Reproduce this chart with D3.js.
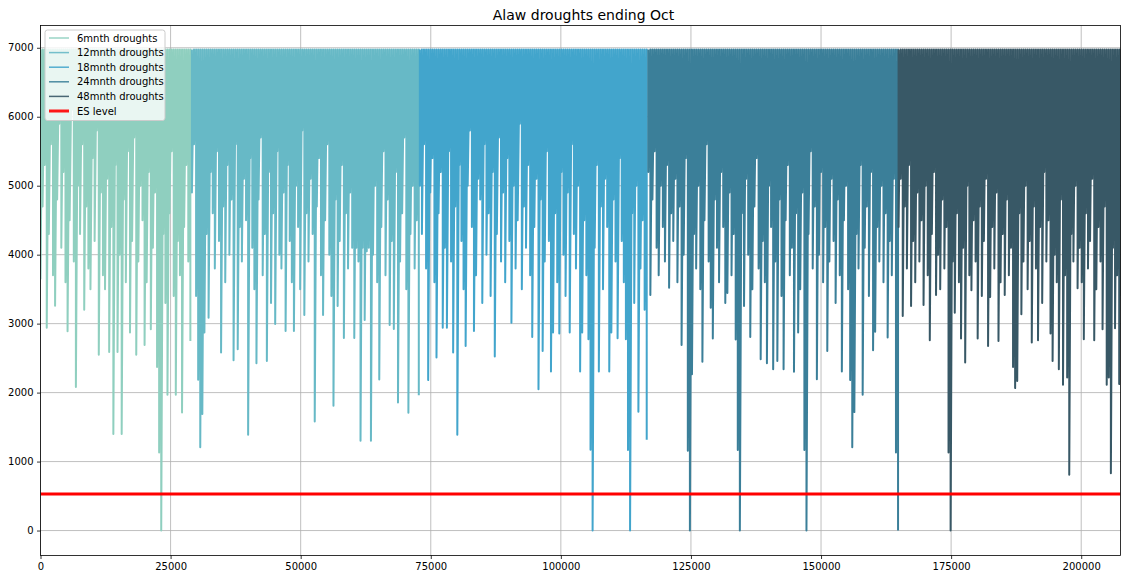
<!DOCTYPE html>
<html>
<head>
<meta charset="utf-8">
<script src="https://cdn.jsdelivr.net/npm/d3@7"></script>
<style>
  body { margin: 0; background: #fff; }
  text { font-family: "DejaVu Sans", sans-serif; }
</style>
</head>
<body>
<svg id="chart" width="1121" height="573"></svg>
<script>
// Reservoir storage (Ml) for drought traces ending in October.
// Each value is the lowest storage reached in one sampled stretch of the run;
// the storage refills to the reservoir capacity between stretches.
const capacity = 6975;
const sampleStep = 400;
const esLevel = 530;

const seriesNames = ["6mnth droughts", "12mnth droughts", "18mnth droughts", "24mnth droughts", "48mnth droughts"];
const seriesStarts = [0, 29100, 72900, 116800, 164900];

const droughts6 = [
  3650, 4700, 5300, 2940, 4300, 5600, 3700, 3260, 4800, 5900,
  4100, 5200, 3600, 2890, 4500, 6100, 3900, 2080, 5000, 4300,
  5600, 3200, 4700, 3800, 3500, 5400, 4200, 5800, 2550, 4900,
  3700, 3500, 5100, 2590, 4400, 1400, 5300, 2590, 4000, 1400,
  4800, 3600, 5500, 2870, 4200, 5700, 2550, 3900, 5000, 4500,
  2690, 3600, 5200, 2920, 4100, 4900, 2370, 1130, 0, 4300,
  3300, 1970, 4600, 5500, 3400, 1970, 4200, 3700, 1710, 4400,
  5300, 3900, 2750
];

const droughts12 = [
  4900, 5600, 3400, 2185, 1206, 1690, 2870, 4300, 3087, 5200,
  4600, 3800, 5500, 4200, 2580, 4700, 3600, 5300, 4000, 4800,
  2470, 5600, 2630, 4400, 3900, 5100, 4500, 1390, 5400, 4100,
  3500, 2427, 4800, 5700, 3700, 4300, 2460, 5200, 3300, 4600,
  2995, 5500, 4000, 3800, 4900, 2894, 5300, 4200, 3600, 2894,
  5000, 4400, 3500, 5800, 3126, 4600, 3900, 5100, 4300, 1582,
  4700, 5400, 3700, 3126, 4500, 5600, 4000, 3400, 1809, 4800,
  3256, 4200, 5300, 2793, 4600, 3800, 4900, 4100, 2793, 4100,
  3900, 1302, 4100, 3053, 4050, 4100, 1302, 4000, 5000, 3600,
  2190, 4400, 5500, 3700, 4800, 2981, 4200, 2923, 5200, 1857,
  3900, 4600, 5700, 3500, 1707, 4300, 5000, 3800, 4500, 1963
];

const droughts18 = [
  5000, 4300, 5600, 3800, 2181, 4900, 5400, 3600, 2508, 4600,
  5200, 2942, 4100, 2942, 5500, 3900, 2580, 4700, 1390, 5300,
  4200, 3500, 2677, 5000, 5800, 4400, 2894, 3700, 5100, 4800,
  3300, 5600, 4000, 4600, 3400, 5200, 2522, 4300, 5700, 3900,
  4900, 3600, 5400, 4200, 3014, 5000, 3800, 4500, 5900, 3500,
  4700, 4100, 5300, 3700, 2807, 4400, 5100, 2050, 4800, 2605,
  3900, 5500, 4200, 2305, 2870, 4600, 3600, 2856, 5200, 4000,
  3400, 4900, 2870, 5600, 4300, 3800, 5000, 2305, 2870, 4500,
  3700, 2773, 1172, 0, 4100, 5300, 2305, 4700, 3500, 5100,
  4400, 2305, 2870, 4800, 3900, 2788, 5400, 4200, 3600, 2773,
  1168, 0, 4600, 3300, 5000, 1722, 3800, 4500, 3200, 1316
];

const droughts24 = [
  5200, 3415, 4800, 5500, 4100, 3700, 5000, 4400, 3900, 5300,
  3520, 4600, 4200, 5100, 3600, 4700, 2692, 4000, 5400, 1158,
  0, 2267, 4300, 3800, 5000, 3500, 2446, 4500, 5600, 3900,
  3232, 2783, 4800, 4100, 3600, 5200, 4400, 3300, 3443, 4900,
  3700, 4300, 2769, 1168, 0, 4600, 3256, 5100, 4000, 2807,
  3500, 4700, 5400, 3800, 2485, 4200, 3600, 2427, 5000, 4400,
  2340, 3900, 2460, 4800, 3400, 2340, 4500, 5300, 3700, 4100,
  2301, 4600, 2870, 3500, 4900, 1168, 0, 4300, 5500, 3800,
  4700, 2195, 4000, 5200, 3600, 4400, 2605, 3900, 5100, 4200,
  3300, 4800, 3700, 2305, 4500, 5000, 3500, 2181, 1206, 1717,
  4300, 3800, 5300, 1968, 4100, 4700, 3400, 5200, 2615, 2884,
  4400, 3900, 5000, 3600, 4600, 2798, 4200, 3700, 5100, 1133,
  0
];

const droughts48 = [
  4400, 5100, 3111, 4700, 3800, 5300, 3256, 4200, 3600, 4900,
  3900, 4500, 3270, 5000, 3700, 2760, 4300, 5200, 3415, 4000,
  3500, 4800, 3800, 4400, 1133, 0, 3900, 3159, 4600, 3600,
  2783, 4100, 2436, 5000, 3700, 3483, 4500, 3900, 2783, 4700,
  3400, 4200, 5100, 2677, 3386, 4400, 3800, 4900, 2750, 3600,
  4300, 3415, 4800, 3700, 4100, 2373, 2065, 2170, 4600, 3136,
  3900, 5000, 3500, 4200, 2726, 4700, 3800, 2760, 4400, 3300,
  5200, 3900, 4500, 2856, 2460, 4000, 3600, 2340, 4800, 2113,
  3700, 2219, 810, 4300, 3900, 5000, 3512, 4100, 3600, 2773,
  4600, 3800, 4200, 5100, 2760, 3500, 4400, 3900, 2918, 4700,
  2113, 2219, 830, 4100, 2933, 3700, 2123, 3400
];

const seriesValues = [droughts6, droughts12, droughts18, droughts24, droughts48];
const seriesColors = ["#8fcfbf", "#67b9c6", "#42a5cc", "#3b7f99", "#385866"];

const xTicks = [0, 25000, 50000, 75000, 100000, 125000, 150000, 175000, 200000];
const yTicks = [0, 1000, 2000, 3000, 4000, 5000, 6000, 7000];
const xMax = 207550;
const yExtent = [-362, 7323];

const svg = d3.select("#chart");
const plot = { left: 40.5, right: 1120.5, top: 25.5, bottom: 555.5 };

const x = d3.scaleLinear().domain([0, xMax]).range([plot.left, plot.right]);
const y = d3.scaleLinear().domain(yExtent).range([plot.bottom, plot.top]);

svg.append("defs").append("clipPath").attr("id", "plot-clip")
  .append("rect")
  .attr("x", plot.left).attr("y", plot.top)
  .attr("width", plot.right - plot.left).attr("height", plot.bottom - plot.top);

// grid
const grid = svg.append("g").attr("stroke", "#b0b0b0").attr("stroke-width", 0.8);
grid.selectAll("line.gx").data(xTicks).join("line")
  .attr("x1", d => x(d)).attr("x2", d => x(d))
  .attr("y1", plot.top).attr("y2", plot.bottom);
grid.selectAll("line.gy").data(yTicks).join("line")
  .attr("x1", plot.left).attr("x2", plot.right)
  .attr("y1", d => y(d)).attr("y2", d => y(d));

// drought traces: each stretch drops from capacity to its low, then refills
const line = d3.line().x(d => x(d[0])).y(d => y(d[1]));
const traces = svg.append("g").attr("clip-path", "url(#plot-clip)");
seriesValues.forEach((vals, k) => {
  const start = seriesStarts[k];
  const pts = vals.flatMap((v, i) => {
    const t = start + i * sampleStep;
    return [[t, capacity], [t, v]];
  });
  traces.append("path")
    .attr("d", line(pts))
    .attr("fill", "none")
    .attr("stroke", seriesColors[k])
    .attr("stroke-width", 2)
    .attr("stroke-linejoin", "round");
});

// ES level
traces.append("line")
  .attr("x1", x(0)).attr("x2", x(xMax))
  .attr("y1", y(esLevel)).attr("y2", y(esLevel))
  .attr("stroke", "#ff0000").attr("stroke-width", 3);

// axes
const xAxis = d3.axisBottom(x).tickValues(xTicks).tickFormat(d3.format("d")).tickSize(3.5).tickPadding(3.5);
const yAxis = d3.axisLeft(y).tickValues(yTicks).tickFormat(d3.format("d")).tickSize(3.5).tickPadding(3.5);
const gx = svg.append("g").attr("transform", `translate(0,${plot.bottom})`).call(xAxis);
const gy = svg.append("g").attr("transform", `translate(${plot.left},0)`).call(yAxis);
[gx, gy].forEach(g => {
  g.select(".domain").remove();
  g.selectAll("text").attr("font-size", 10).attr("fill", "#000").attr("font-family", "DejaVu Sans");
  g.selectAll("line").attr("stroke", "#000").attr("stroke-width", 0.8);
});

// frame
svg.append("rect")
  .attr("x", plot.left).attr("y", plot.top)
  .attr("width", plot.right - plot.left).attr("height", plot.bottom - plot.top)
  .attr("fill", "none").attr("stroke", "#000").attr("stroke-width", 0.8);

// title
svg.append("text")
  .attr("x", (plot.left + plot.right) / 2 + 3).attr("y", 20)
  .attr("text-anchor", "middle").attr("font-size", 14).attr("fill", "#000")
  .text("Alaw droughts ending Oct");

// legend
const legendItems = seriesNames.map((n, k) => ({ name: n, color: seriesColors[k], width: 1.5 }))
  .concat([{ name: "ES level", color: "#ff0000", width: 3 }]);
const lg = svg.append("g").attr("transform", "translate(45,30)");
lg.append("rect")
  .attr("x", 0).attr("y", 0).attr("width", 120).attr("height", 90.5)
  .attr("rx", 2.5).attr("fill", "#fff").attr("fill-opacity", 0.8)
  .attr("stroke", "#cccccc").attr("stroke-width", 1);
const rows = lg.selectAll("g.item").data(legendItems).join("g")
  .attr("transform", (d, i) => `translate(0,${8 + i * 14.6})`);
rows.append("line")
  .attr("x1", 4).attr("x2", 24).attr("y1", 0).attr("y2", 0)
  .attr("stroke", d => d.color).attr("stroke-width", d => d.width)
  .attr("stroke-opacity", 0.9);
rows.append("text")
  .attr("x", 32).attr("y", 0).attr("dy", "0.35em")
  .attr("font-size", 10).attr("fill", "#000")
  .text(d => d.name);
</script>
</body>
</html>
